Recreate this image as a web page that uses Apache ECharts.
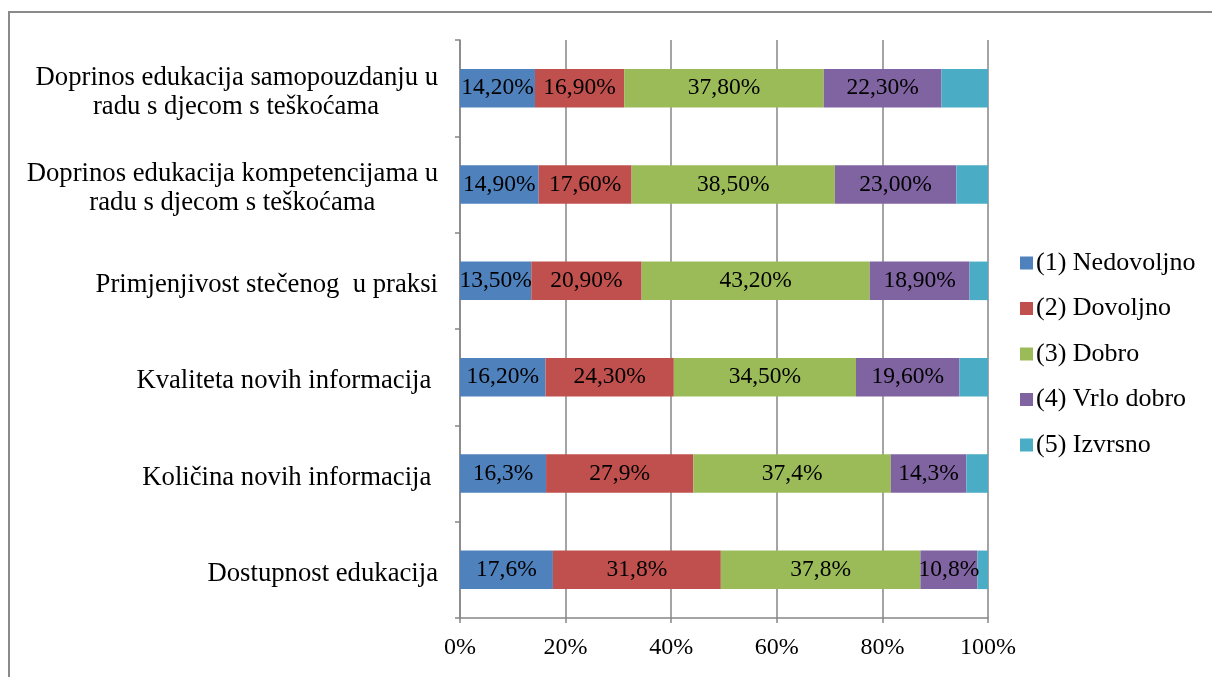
<!DOCTYPE html>
<html>
<head>
<meta charset="utf-8">
<script src="https://cdn.jsdelivr.net/npm/echarts@6/dist/echarts.min.js"></script>
<style>
  body { margin: 0; background: #fff; }
  #chart { width: 1212px; height: 677px; }
  .frame { position: absolute; left: 8px; top: 11px; right: 0; bottom: 0;
           border-left: 2px solid #8a8a8a; border-top: 2px solid #8a8a8a; pointer-events: none; }
</style>
</head>
<body>
<div id="chart"></div>
<div class="frame"></div>
<script>
// categories bottom -> top
const categories = [
  'Dostupnost edukacija',
  'Količina novih informacija ',
  'Kvaliteta novih informacija ',
  'Primjenjivost stečenog  u praksi',
  'Doprinos edukacija kompetencijama u\nradu s djecom s teškoćama',
  'Doprinos edukacija samopouzdanju u\nradu s djecom s teškoćama'
];
const labelDecimals = [1, 1, 2, 2, 2, 2];

const seriesNames = ['(1) Nedovoljno', '(2) Dovoljno', '(3) Dobro', '(4) Vrlo dobro', '(5) Izvrsno'];
const nedovoljno = [17.6, 16.3, 16.2, 13.5, 14.9, 14.2];
const dovoljno = [31.8, 27.9, 24.3, 20.9, 17.6, 16.9];
const dobro = [37.8, 37.4, 34.5, 43.2, 38.5, 37.8];
const vrloDobro = [10.8, 14.3, 19.6, 18.9, 23.0, 22.3];
const izvrsno = [2.0, 4.1, 5.4, 3.5, 6.0, 8.8];
const colors = ['#4F81BD', '#C0504D', '#9BBB59', '#8064A2', '#4BACC6'];

const xTicks = [0, 20, 40, 60, 80, 100];

const font = '"Liberation Serif", "Times New Roman", serif';
const catSize = 26.7;

// second-line centring boxes for the two-line category labels
const secondLineBox = { 4: 382, 5: 404 };

function makeSeries(name, data, idx, showLabel) {
  return {
    name,
    type: 'bar',
    stack: 'total',
    barCategoryGap: '60%',
    data,
    itemStyle: { color: colors[idx] },
    label: {
      show: showLabel,
      position: 'inside',
      color: '#000',
      fontFamily: font,
      fontSize: 23.5,
      formatter: (p) => p.value.toFixed(labelDecimals[p.dataIndex]).replace('.', ',') + '%',
    },
  };
}

const chart = echarts.init(document.getElementById('chart'), null, { renderer: 'canvas' });
chart.setOption({
  animation: false,
  color: colors,
  textStyle: { fontFamily: font },
  grid: { left: 460, right: 224, top: 40, bottom: 59 },
  legend: {
    orient: 'vertical',
    left: 1015,
    top: 245,
    itemWidth: 13,
    itemHeight: 13,
    itemGap: 19.5,
    icon: 'rect',
    textStyle: { fontFamily: font, fontSize: 26, color: '#000', padding: [0, 0, 0, -2] },
    data: seriesNames,
  },
  xAxis: {
    type: 'value',
    min: 0,
    max: 100,
    interval: 20,
    axisLine: { show: true, lineStyle: { color: '#868686', width: 1.5 } },
    axisTick: { show: true, length: 5, lineStyle: { color: '#868686', width: 1.5 } },
    splitLine: { show: true, lineStyle: { color: '#868686', width: 1.5 } },
    axisLabel: {
      margin: 18,
      color: '#000',
      fontFamily: font,
      fontSize: 24,
      formatter: (v) => (xTicks.includes(v) ? v + '%' : ''),
    },
  },
  yAxis: {
    type: 'category',
    data: categories,
    axisLine: { show: true, lineStyle: { color: '#868686', width: 1.5 } },
    axisTick: { show: true, length: 5, lineStyle: { color: '#868686', width: 1.5 } },
    axisLabel: {
      margin: 22,
      color: '#000',
      fontFamily: font,
      fontSize: catSize,
      lineHeight: 29,
      padding: [8, 0, 0, 0],
      formatter: (v, i) => {
        if (!v.includes('\n')) return v;
        const [a, b] = v.split('\n');
        return '{t|' + a + '}\n{' + (i === 4 ? 'k' : 's') + '|' + b + '}';
      },
      rich: {
        t: { fontFamily: font, fontSize: catSize, lineHeight: 29, color: '#000' },
        k: { width: secondLineBox[4], align: 'center', fontFamily: font, fontSize: catSize, lineHeight: 29, color: '#000' },
        s: { width: secondLineBox[5], align: 'center', fontFamily: font, fontSize: catSize, lineHeight: 29, color: '#000' },
      },
    },
  },
  series: [
    makeSeries(seriesNames[0], nedovoljno, 0, true),
    makeSeries(seriesNames[1], dovoljno, 1, true),
    makeSeries(seriesNames[2], dobro, 2, true),
    makeSeries(seriesNames[3], vrloDobro, 3, true),
    makeSeries(seriesNames[4], izvrsno, 4, false),
  ],
});
</script>
</body>
</html>
